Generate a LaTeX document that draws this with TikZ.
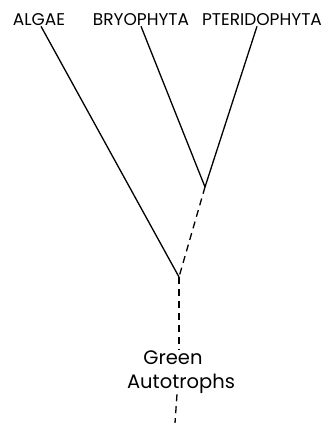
\documentclass[tikz,border=0pt]{standalone}
\usepackage{fontspec}
\setmainfont{Poppins}
\tikzset{
  taxon/.style={font=\fontsize{17}{19}\selectfont, inner sep=1pt, anchor=base},
  group/.style={font=\fontsize{19.5}{22}\selectfont, inner sep=1pt, anchor=base},
  branch/.style={line width=1.3pt},
  stem/.style={branch, dash pattern=on 7pt off 5pt},
}
\begin{document}
\begin{tikzpicture}[x=1pt,y=-1pt]
  \useasboundingbox (0,0) rectangle (328,423);
  \node[taxon] (algae)   at (39,25)  {ALGAE};
  \node[taxon] (bryo)    at (141,25) {BRYOPHYTA};
  \node[taxon] (pterido) at (262,25) {PTERIDOPHYTA};
  \coordinate (fork1) at (205,187);
  \coordinate (fork2) at (179,277);
  \coordinate (root)  at (175,423);
  \node[group] (green)  at (173,364) {Green};
  \node[group] (autotr) at (181,388) {Autotrophs};
  \draw[branch] ([xshift=2pt]algae.south) -- (fork2);
  \draw[branch] (bryo.south) -- (fork1);
  \draw[branch] ([xshift=-5pt]pterido.south) -- (fork1);
  \draw[stem] (fork1) -- (fork2);
  \draw[stem] (fork2) -- (green.north -| fork2);
  \draw[stem] (autotr.south -| 177,0) -- (root);
\end{tikzpicture}
\end{document}
